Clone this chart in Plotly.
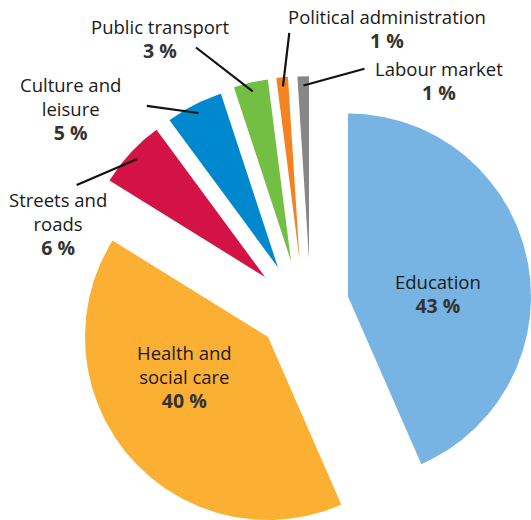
import math
import plotly.graph_objects as go

# Spending shares by sector (per cent)
categories = ["Education", "Health and social care", "Streets and roads",
              "Culture and leisure", "Public transport",
              "Political administration", "Labour market"]
shares = [43, 40, 6, 5, 3, 1, 1]
name_lines = [["Education"], ["Health and", "social care"], ["Streets and", "roads"],
              ["Culture and", "leisure"], ["Public transport"],
              ["Political administration"], ["Labour market"]]

# ---- styling / layout constants ----
W, H = 531, 520
R = 183  # pie radius in px
colors = ["#78B4E3", "#FBB034", "#D31245", "#0088CE", "#72BF44", "#F58220", "#878787"]
# apex of every exploded slice (px, y measured downward)
apex = [(348, 296.5), (268, 337), (265, 277), (278, 267.5),
        (291, 261), (299.5, 259.5), (309, 259.3)]
# outer end of the leader line (None = label sits inside the slice)
leader_end = [None, None, (76.7, 185), (146.8, 105.8),
              (196, 47.5), (289.3, 32.9), (364.5, 68.8)]
# centre of each label block (name lines + percentage)
label_xy = [(438, 294), (184.5, 376.5), (57.5, 224), (70, 108.5),
            (160, 38.5), (387, 28.5), (438.5, 80.5)]

FONT = "Open Sans"
NAME_SIZE, PCT_SIZE = 18.5, 19.5
fig = go.Figure()

total = float(sum(shares))
start = 0.0
shapes, annotations = [], []
for i, (cat, v) in enumerate(zip(categories, shares)):
    span = v / total * 360.0
    a0, a1 = start, start + span
    start = a1
    ax, ay = apex[i]
    n = max(3, int(span * 2))
    xs, ys = [ax], [ay]
    for k in range(n + 1):
        b = math.radians(a0 + span * k / n)
        xs.append(ax + R * math.sin(b))
        ys.append(ay - R * math.cos(b))
    xs.append(ax)
    ys.append(ay)
    fig.add_trace(go.Scatter(
        x=xs, y=ys, mode="lines", fill="toself", fillcolor=colors[i],
        line=dict(width=0, color=colors[i]), name=cat, hoverinfo="name",
        showlegend=False))

    mid = math.radians((a0 + a1) / 2)
    if leader_end[i] is not None:
        ix = ax + 0.95 * R * math.sin(mid)
        iy = ay - 0.95 * R * math.cos(mid)
        ex, ey = leader_end[i]
        shapes.append(dict(type="line", xref="x", yref="y", x0=ex, y0=ey,
                           x1=ix, y1=iy, line=dict(color="#111111", width=2.2)))

    text = "<br>".join(name_lines[i]) + (
        f'<br><span style="font-size:{PCT_SIZE}px;color:#333333"><b>{v} %</b></span>')
    lx, ly = label_xy[i]
    annotations.append(dict(x=lx, y=ly, xref="x", yref="y", text=text,
                            showarrow=False, xanchor="center", yanchor="middle",
                            align="center",
                            font=dict(family=FONT, size=NAME_SIZE, color="#1a1a1a")))

fig.update_layout(
    width=W, height=H,
    margin=dict(l=0, r=0, t=0, b=0),
    paper_bgcolor="white", plot_bgcolor="white",
    xaxis=dict(range=[0, W], visible=False, fixedrange=True),
    yaxis=dict(range=[H, 0], visible=False, fixedrange=True),
    shapes=shapes, annotations=annotations,
)

fig.write_html("out.html")
